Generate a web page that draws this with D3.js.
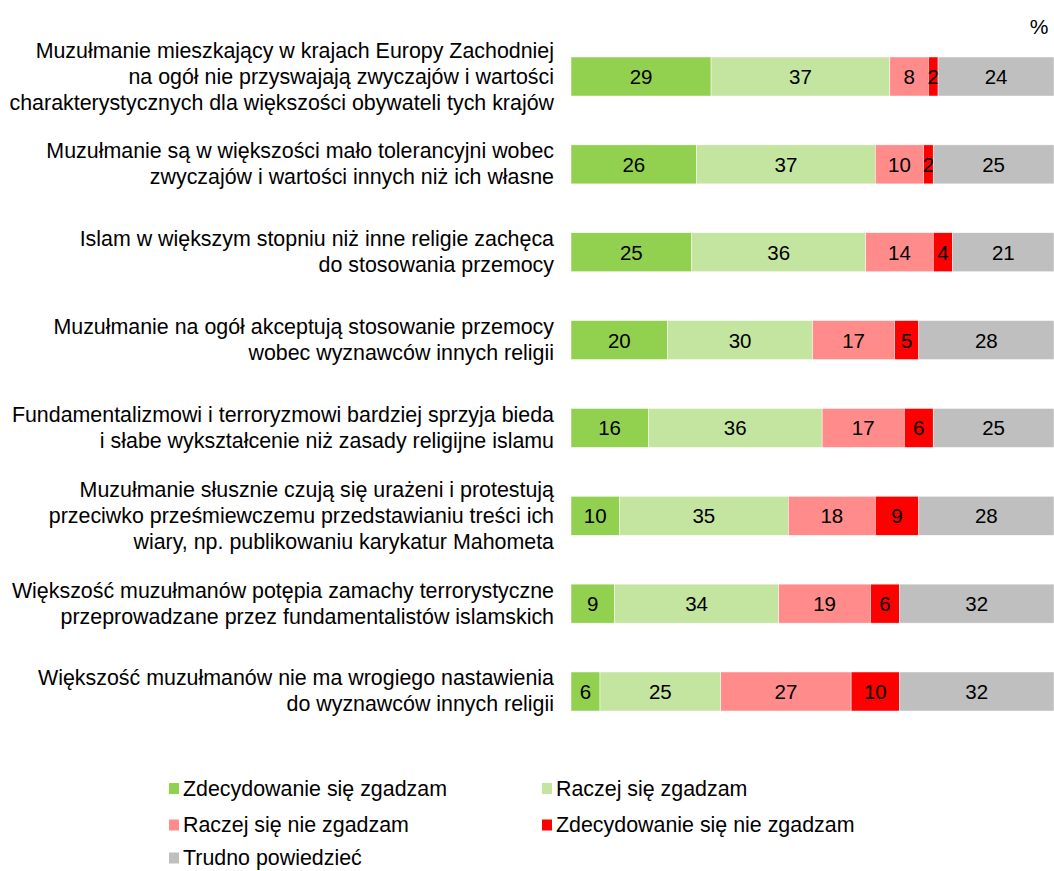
<!DOCTYPE html>
<html><head><meta charset="utf-8">
<script src="https://cdn.jsdelivr.net/npm/d3@7"></script>
<style>body{margin:0;background:#fff}svg{display:block;font-family:"Liberation Sans",Arial,sans-serif}</style>
</head><body><svg id="c" width="1054" height="871"></svg>
<script>
const categories = [
  ["Muzułmanie mieszkający w krajach Europy Zachodniej","na ogół nie przyswajają zwyczajów i wartości","charakterystycznych dla większości obywateli tych krajów"],
  ["Muzułmanie są w większości mało tolerancyjni wobec","zwyczajów i wartości innych niż ich własne"],
  ["Islam w większym stopniu niż inne religie zachęca","do stosowania przemocy"],
  ["Muzułmanie na ogół akceptują stosowanie przemocy","wobec wyznawców innych religii"],
  ["Fundamentalizmowi i terroryzmowi bardziej sprzyja bieda","i słabe wykształcenie niż zasady religijne islamu"],
  ["Muzułmanie słusznie czują się urażeni i protestują","przeciwko prześmiewczemu przedstawianiu treści ich","wiary, np. publikowaniu karykatur Mahometa"],
  ["Większość muzułmanów potępia zamachy terrorystyczne","przeprowadzane przez fundamentalistów islamskich"],
  ["Większość muzułmanów nie ma wrogiego nastawienia","do wyznawców innych religii"]
];
const seriesNames = ["Zdecydowanie się zgadzam","Raczej się zgadzam","Raczej się nie zgadzam","Zdecydowanie się nie zgadzam","Trudno powiedzieć"];
const strongAgree    = [29,26,25,20,16,10,9,6];
const ratherAgree    = [37,37,36,30,36,35,34,25];
const ratherDisagree = [8,10,14,17,17,18,19,27];
const strongDisagree = [2,2,4,5,6,9,6,10];
const hardToSay      = [24,25,21,28,25,28,32,32];
const colors = ["#92d050","#c4e5a0","#ff8b8b","#ff0000","#bfbfbf"];
const unitLabel = "%";

const series = [strongAgree, ratherAgree, ratherDisagree, strongDisagree, hardToSay];
const svg = d3.select("#c");
const ids = categories.map((d,i)=>i);
const x = d3.scaleLinear().domain([0,100]).range([571,1054]);
const y = d3.scaleBand().domain(ids).range([57,711]).paddingInner(0.556).paddingOuter(0);

const rows = ids.map(i => { const o = {i}; series.forEach((s,k)=>o["s"+k]=s[i]); return o; });
const stack = d3.stack().keys(series.map((s,k)=>"s"+k))(rows);

stack.forEach((layer,k)=>{
  const g = svg.append("g");
  g.selectAll("rect").data(layer).join("rect")
    .attr("x", d=>x(d[0])).attr("width", d=>x(d[1])-x(d[0]))
    .attr("y", d=>y(d.data.i)).attr("height", y.bandwidth())
    .attr("fill", colors[k]).attr("stroke","#fff").attr("stroke-width",0.6).attr("stroke-opacity",0.8);
  g.selectAll("text").data(layer).join("text")
    .attr("x", d=>(x(d[0])+x(d[1]))/2).attr("y", d=>y(d.data.i)+y.bandwidth()/2)
    .attr("text-anchor","middle").attr("dominant-baseline","central")
    .attr("font-size",20.5).attr("fill","#000")
    .text(d=>d[1]-d[0]);
});

const lh = 26;
const lg = svg.append("g");
categories.forEach((lines,i)=>{
  const cy = y(i)+y.bandwidth()/2;
  const t = lg.append("text").attr("text-anchor","end").attr("font-size",21.4).attr("fill","#000");
  lines.forEach((ln,j)=>{
    t.append("tspan").attr("x",554).attr("y", cy + (j-(lines.length-1)/2)*lh).attr("dominant-baseline","central").text(ln);
  });
});

svg.append("text").attr("x",1039).attr("y",26).attr("text-anchor","middle").attr("dominant-baseline","central")
  .attr("font-size",21).text(unitLabel);

const legX = [169,542], legY = [788.5,825,858];
seriesNames.forEach((n,k)=>{
  const lx = legX[k%2], ly = legY[Math.floor(k/2)];
  svg.append("rect").attr("x",lx).attr("y",ly-5.5).attr("width",10).attr("height",11).attr("fill",colors[k]);
  svg.append("text").attr("x",lx+14).attr("y",ly).attr("dominant-baseline","central").attr("font-size",21.4).text(n);
});
</script></body></html>
